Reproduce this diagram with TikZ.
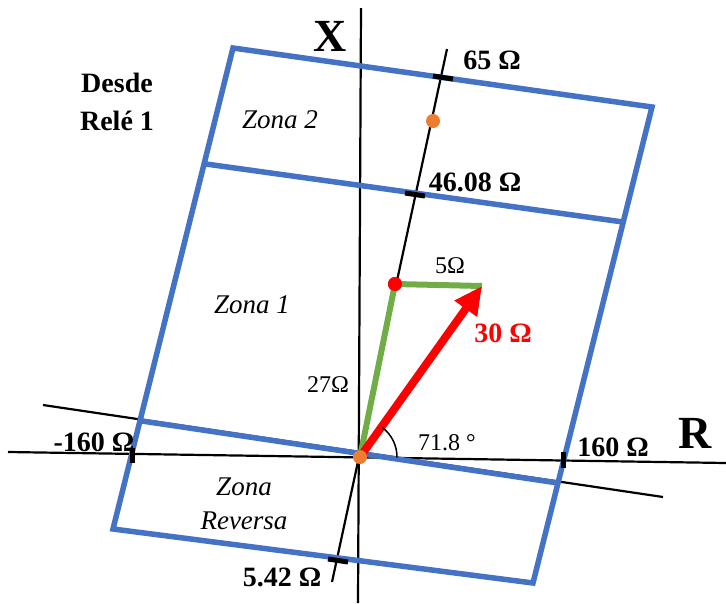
\documentclass[tikz,border=0pt]{standalone}
\usepackage{fontspec}
\setmainfont{Liberation Serif}
\usepackage{tikz}
\usetikzlibrary{arrows.meta}
\definecolor{zblue}{RGB}{68,114,196}
\definecolor{zgreen}{RGB}{112,173,71}
\definecolor{zorange}{RGB}{237,125,49}

\begin{document}
\begin{tikzpicture}[x=1pt, y=-1pt,
  zone/.style={draw=zblue, line width=5.5pt, line join=miter},
  axis/.style={line width=2.2pt},
  tickmark/.style={line width=5pt},
  val/.style={font=\fontsize{28}{32}\selectfont\bfseries},
  zname/.style={font=\fontsize{27}{34}\selectfont\itshape, align=center},
  small/.style={font=\fontsize{24}{28}\selectfont},
  dot/.style={circle, inner sep=0pt, minimum size=14pt}
]
\useasboundingbox (0,0) rectangle (726,603);
\coordinate (O) at (360,457);
\coordinate (TL) at (233,48);
\coordinate (TR) at (652,107);
\coordinate (BR) at (533,583);
\coordinate (BL) at (113,529);
\coordinate (M2L) at (206,164);
\coordinate (M2R) at (623,222);
\coordinate (M1L) at (142,421);
\coordinate (M1R) at (558,483);
\coordinate (tip) at (482,286);

\draw[axis] (361,8) -- (358,603);
\draw[axis] (8,452) -- (726,463);
\draw[axis] (43,405) -- (663,497);
\draw[axis] (332,582) -- (447,49);

\draw[zone] (TL) -- (TR) -- (BR) -- (BL) -- cycle;
\draw[zone] (M2L) -- (M2R);
\draw[zone] (M1L) -- (M1R);

\draw[tickmark] (433,76) -- (453,79);
\draw[tickmark] (405,193) -- (425,196);
\draw[tickmark] (328,559) -- (348,562);
\draw[tickmark] (563,452) -- (563,468);
\draw[tickmark] (132,448) -- (132,463);

\node[dot, fill=red] (Zr) at (395,284) {};
\draw[zgreen, line width=6pt, line join=miter] (O) -- (Zr.center) -- (tip);
\draw[red, line width=8pt, -{Triangle[length=28pt, width=26pt]}] (O) -- (tip);
\node[dot, fill=red] at (Zr) {};
\node[dot, fill=zorange] (Zo) at (433,121) {};
\node[dot, fill=zorange] (Oo) at (O) {};

\draw[line width=1.5pt] ([shift={(-1:37pt)}]O) arc[start angle=-1, end angle=53, radius=37pt];

\node[font=\fontsize{46}{50}\selectfont\bfseries] (lblX) at (330,36) {X};
\node[font=\fontsize{46}{50}\selectfont\bfseries] (lblR) at (695,433) {R};
\node[align=center, font=\fontsize{28}{38}\selectfont\bfseries] (desde) at (117,102) {Desde\\Relé 1};
\node[zname] (z2) at (280,120) {Zona 2};
\node[zname] (z1) at (252,305) {Zona 1};
\node[zname] (zrev) at (244,504) {Zona\\Reversa};
\node[val] (v65) at (492,60) {65 Ω};
\node[val] (v4608) at (475,182) {46.08 Ω};
\node[val, text=red] (v30) at (503,333) {30 Ω};
\node[val] (v160) at (613,447) {160 Ω};
\node[val] (vm160) at (94,442) {-160 Ω};
\node[val] (v542) at (282,577) {5.42 Ω};
\node[small] (v5) at (450,266) {5Ω};
\node[small] (v27) at (328,385) {27Ω};
\node[small] (ang) at (447,443) {71.8 °};
\end{tikzpicture}
\end{document}
